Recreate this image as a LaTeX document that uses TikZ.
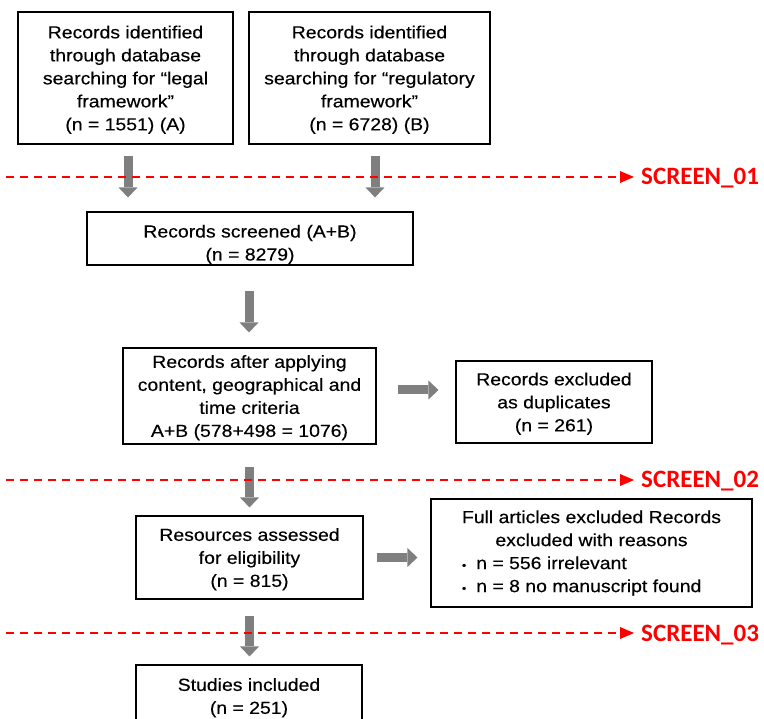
\documentclass[tikz,border=0pt]{standalone}
\usepackage{fontspec}
\setmainfont{Liberation Sans}[FakeStretch=1.11,FakeBold=0.3]
\newfontfamily\screenfont{Carlito}
\usetikzlibrary{arrows.meta,calc}

\definecolor{flowgray}{RGB}{127,127,127}
\definecolor{screenred}{RGB}{255,0,0}

\tikzset{
  box/.style={draw=black, line width=1.1pt, rectangle, inner sep=0pt,
    align=center, text depth=0pt, font=\fontsize{17.5pt}{23pt}\selectfont},
  blockarrow/.style={draw=flowgray, line width=9pt,
    -{Triangle[length=10pt,width=19pt,line width=0pt]}},
  screenline/.style={draw=screenred, line width=1.6pt,
    dash pattern=on 8pt off 6pt, dash phase=8pt,
    -{Triangle[length=14pt,width=12pt,line width=0pt]}},
  screenlabel/.style={text=screenred, inner sep=0pt, anchor=base west,
    font=\screenfont\bfseries\fontsize{25pt}{25pt}\selectfont},
}
\newcommand\listdot{{\fontsize{11pt}{11pt}\selectfont\textbullet}\hspace{10pt}}

\begin{document}
\begin{tikzpicture}[x=1pt,y=-1pt]
\useasboundingbox (0,0) rectangle (764,719);
\fill[white] (0,0) rectangle (764,719);
\begin{scope}
\clip (0,0) rectangle (764,719);

% boxes of the flow
\node[box, minimum width=215pt, minimum height=132pt] (srcA) at (125.5,78)
  {Records identified\\through database\\searching for “legal\\framework”\\(n = 1551) (A)};
\node[box, minimum width=241pt, minimum height=132pt] (srcB) at (369.5,78)
  {Records identified\\through database\\searching for “regulatory\\framework”\\(n = 6728) (B)};
\node[box, minimum width=326pt, minimum height=53pt] (scr) at (250,238.5)
  {\rule{0pt}{21pt}Records screened (A+B)\\(n = 8279)};
\node[box, minimum width=253pt, minimum height=96pt] (cont) at (249.5,396)
  {Records after applying\\content, geographical and\\time criteria\\A+B (578+498 = 1076)};
\node[box, minimum width=196pt, minimum height=82pt] (dup) at (554,402)
  {Records excluded\\as duplicates\\(n = 261)};
\node[box, minimum width=227pt, minimum height=83pt] (res) at (249.5,557.5)
  {Resources assessed\\for eligibility\\(n = 815)};
\node[box, text depth={}, minimum width=321pt, minimum height=108pt] (full) at (591.5,553)
  {\begin{tabular}{@{}l@{}}
   \multicolumn{1}{@{}c@{}}{Full articles excluded Records}\\
   \multicolumn{1}{@{}c@{}}{excluded with reasons}\\
   \listdot n = 556 irrelevant\\
   \listdot n = 8 no manuscript found
   \end{tabular}};
\node[box, minimum width=226pt, minimum height=62pt] (stu) at (249,696)
  {Studies included\\(n = 251)};

% grey block arrows between the stages
\draw[blockarrow] ($(srcA.south)+(2.5,11)$) -- ($(srcA.south |- scr.north)+(2.5,-14)$);
\draw[blockarrow] ($(srcB.south)+(5.5,11)$) -- ($(srcB.south |- scr.north)+(5.5,-14)$);
\draw[blockarrow] ($(scr.south)+(-1,25)$) -- ($(scr.south |- cont.north)+(-1,-15)$);
\draw[blockarrow] ($(cont.east)+(21,-6)$) -- ($(cont.east -| dup.west)+(-17,-6)$);
\draw[blockarrow] ($(cont.south)+(0,22)$) -- ($(cont.south |- res.north)+(0,-8)$);
\draw[blockarrow] ($(res.east)+(13,0)$) -- ($(res.east -| full.west)+(-13,0)$);
\draw[blockarrow] ($(res.south)+(0,16)$) -- ($(res.south |- stu.north)+(0,-8)$);

% screening stages
\node[screenlabel] (s1) at (641,185) {SCREEN\_01};
\node[screenlabel] (s2) at (641,488) {SCREEN\_02};
\node[screenlabel] (s3) at (641,641) {SCREEN\_03};
\coordinate (l1) at (0,177);
\coordinate (l2) at (0,480);
\coordinate (l3) at (0,633);
\draw[screenline] (l1) -- ($(l1 -| s1.west)+(-7,0)$);
\draw[screenline] (l2) -- ($(l2 -| s2.west)+(-7,0)$);
\draw[screenline] (l3) -- ($(l3 -| s3.west)+(-7,0)$);
\end{scope}
\end{tikzpicture}
\end{document}
